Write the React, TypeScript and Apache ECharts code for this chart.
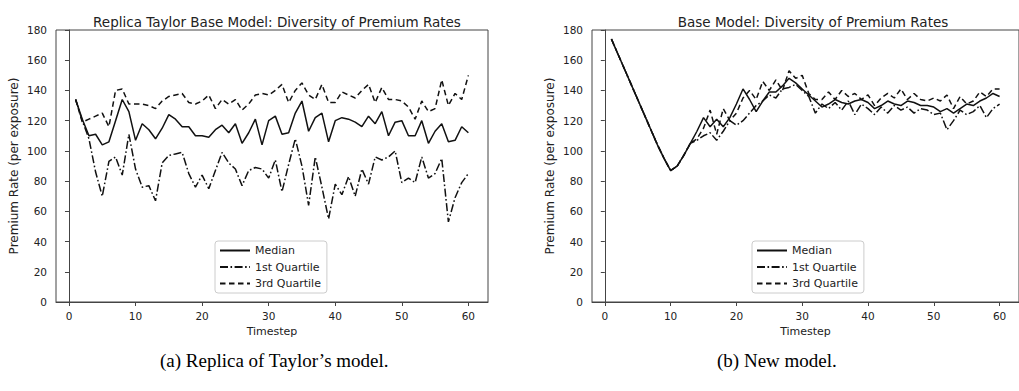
import React, { useEffect, useRef } from "react";
import * as echarts from "echarts";

const timesteps = [
  1, 2, 3, 4, 5, 6, 7, 8, 9, 10, 11, 12, 13, 14, 15, 16, 17, 18, 19, 20,
  21, 22, 23, 24, 25, 26, 27, 28, 29, 30, 31, 32, 33, 34, 35, 36, 37, 38, 39, 40,
  41, 42, 43, 44, 45, 46, 47, 48, 49, 50, 51, 52, 53, 54, 55, 56, 57, 58, 59, 60,
];

// (a) Replica Taylor Base Model
const replicaMedian = [
  134, 121, 110, 111, 104, 106, 120, 134, 126, 107, 118, 114, 108, 115, 124, 121, 116, 116, 110, 110,
  109, 114, 117, 112, 118, 105, 112, 121, 104, 120, 123, 111, 112, 125, 133, 113, 122, 125, 106, 120,
  122, 121, 119, 116, 123, 118, 126, 110, 119, 120, 110, 110, 120, 105, 113, 118, 106, 107, 116, 112,
];
const replicaQ1 = [
  134, 120, 108, 86, 70, 93, 96, 84, 111, 88, 76, 77, 67, 92, 97, 98, 99, 85, 76, 84,
  75, 87, 99, 92, 88, 77, 87, 89, 88, 82, 94, 73, 91, 108, 90, 64, 96, 76, 55, 78,
  71, 83, 70, 88, 78, 96, 94, 96, 100, 79, 82, 79, 96, 82, 85, 95, 53, 69, 79, 85,
];
const replicaQ3 = [
  134, 119, 121, 123, 125, 116, 140, 141, 131, 131, 131, 130, 128, 133, 136, 137, 138, 132, 131, 133,
  137, 128, 134, 131, 134, 127, 131, 137, 138, 137, 140, 144, 132, 140, 145, 137, 134, 144, 132, 132,
  139, 137, 135, 140, 144, 132, 142, 134, 134, 133, 129, 121, 133, 126, 128, 147, 130, 138, 134, 150,
];

// (b) New model
const newMedian = [
  174, 164, 154, 144, 134, 124, 114, 104, 95, 87, 90, 97, 105, 113, 122, 116, 121, 116, 122, 131,
  141, 134, 126, 133, 139, 139, 143, 148, 145, 141, 137, 133, 129, 131, 134, 132, 131, 133, 134, 132,
  128, 130, 133, 131, 130, 133, 132, 130, 130, 129, 126, 128, 125, 128, 131, 130, 133, 135, 138, 136,
];
const newQ1 = [
  174, 164, 154, 144, 134, 124, 114, 104, 95, 87, 90, 97, 105, 107, 110, 112, 107, 113, 120, 117,
  120, 125, 130, 133, 137, 135, 141, 142, 144, 140, 136, 125, 131, 128, 132, 127, 133, 124, 131, 128,
  124, 129, 125, 130, 127, 129, 125, 128, 127, 124, 125, 114, 120, 127, 124, 126, 130, 122, 128, 131,
];
const newQ3 = [
  174, 164, 154, 144, 134, 124, 114, 104, 95, 87, 90, 97, 105, 108, 115, 127, 111, 128, 120, 125,
  135, 140, 134, 146, 140, 147, 140, 153, 148, 150, 138, 134, 134, 139, 134, 140, 136, 138, 134, 137,
  130, 135, 138, 135, 141, 134, 138, 134, 133, 135, 133, 137, 128, 136, 131, 133, 139, 136, 141, 141,
];

const xTicks = [0, 10, 20, 30, 40, 50, 60];
const seriesNames = ["Median", "1st Quartile", "3rd Quartile"];
const titles = [
  "Replica Taylor Base Model: Diversity of Premium Rates",
  "Base Model: Diversity of Premium Rates",
];
const captions = ["(a) Replica of Taylor\u2019s model.", "(b) New model."];

const pair = (vals: number[]) => vals.map((v, i) => [timesteps[i], v]);

const SANS = '"DejaVu Sans", Verdana, sans-serif';
const AX = "#444";
const TXT = "#222";

const styles = [
  { width: 1.5, type: "solid" as any },
  { width: 1.5, type: [8, 2.5, 1.6, 2.5] as any },
  { width: 1.5, type: [5.5, 3.5] as any },
];

export default function App() {
  const ref = useRef<HTMLDivElement>(null);
  useEffect(() => {
    if (!ref.current) return;
    const chart = echarts.init(ref.current, undefined, { renderer: "svg" });
    const gridLefts = [56, 592];
    const plotW = 432;
    const mkX = (gi: number) => ({
      type: "value",
      gridIndex: gi,
      min: -1.95,
      max: 62.95,
      name: "Timestep",
      nameLocation: "middle",
      nameGap: 22,
      nameTextStyle: { fontFamily: SANS, fontSize: 11, color: TXT },
      axisLine: { show: true, onZero: false, lineStyle: { color: AX, width: 1 } },
      axisTick: { show: true, customValues: xTicks, length: 4, inside: false, lineStyle: { color: AX } },
      axisLabel: { customValues: xTicks, fontFamily: SANS, fontSize: 10.5, color: TXT, margin: 8 },
      splitLine: { show: false },
    });
    const mkY = (gi: number) => ({
      type: "value",
      gridIndex: gi,
      min: 0,
      max: 180,
      interval: 20,
      name: "Premium Rate (per exposure)",
      nameLocation: "middle",
      nameGap: 36,
      nameTextStyle: { fontFamily: SANS, fontSize: 12, color: TXT },
      axisLine: { show: true, lineStyle: { color: AX, width: 1 } },
      axisTick: { show: true, length: 4, inside: false, lineStyle: { color: AX } },
      axisLabel: { fontFamily: SANS, fontSize: 10.5, color: TXT, margin: 9 },
      splitLine: { show: false },
    });
    const data = [
      [replicaMedian, replicaQ1, replicaQ3],
      [newMedian, newQ1, newQ3],
    ];
    const series: any[] = [];
    data.forEach((set, gi) => {
      set.forEach((vals, si) => {
        series.push({
          type: "line",
          name: seriesNames[si],
          xAxisIndex: gi,
          yAxisIndex: gi,
          data: pair(vals),
          symbol: "none",
          showSymbol: false,
          lineStyle: { color: "#111", ...styles[si] },
          itemStyle: { color: "#111" },
          z: 3 - si,
        });
      });
    });
    const legendLefts = [215, 752];
    chart.setOption({
      animation: false,
      backgroundColor: "#fff",
      title: titles.map((t, i) => ({
        text: t,
        left: gridLefts[i] + plotW / 2,
        textAlign: "center",
        top: 10,
        textStyle: { fontFamily: SANS, fontSize: 13.5, fontWeight: "normal", color: TXT },
      })),
      grid: gridLefts.map((l) => ({
        left: l,
        top: 30,
        width: plotW,
        height: 272,
        show: true,
        borderColor: AX,
        borderWidth: 1,
        backgroundColor: "transparent",
      })),
      xAxis: [mkX(0), mkX(1)],
      yAxis: [mkY(0), mkY(1)],
      legend: legendLefts.map((l) => ({
        data: seriesNames,
        orient: "vertical",
        left: l,
        top: 241,
        itemWidth: 30,
        itemHeight: 12,
        itemGap: 5.5,
        padding: [4, 6, 4, 4],
        borderColor: "#ccc",
        borderWidth: 1,
        borderRadius: 3,
        backgroundColor: "#fff",
        selectedMode: false,
        itemStyle: { color: "rgba(0,0,0,0)", borderWidth: 0, opacity: 0 },
        textStyle: { fontFamily: SANS, fontSize: 11, color: TXT },
      })),
      graphic: captions.map((c, i) => ({
        type: "text",
        left: i === 0 ? 160 : 717,
        top: 351,
        style: {
          text: c,
          font: '19px "Liberation Serif", "Times New Roman", serif',
          fill: "#000",
        },
      })),
      series,
    });
    return () => chart.dispose();
  }, []);
  return (
    <div
      ref={ref}
      style={{ position: "absolute", left: 0, top: 0, width: 1019, height: 391 }}
    />
  );
}
